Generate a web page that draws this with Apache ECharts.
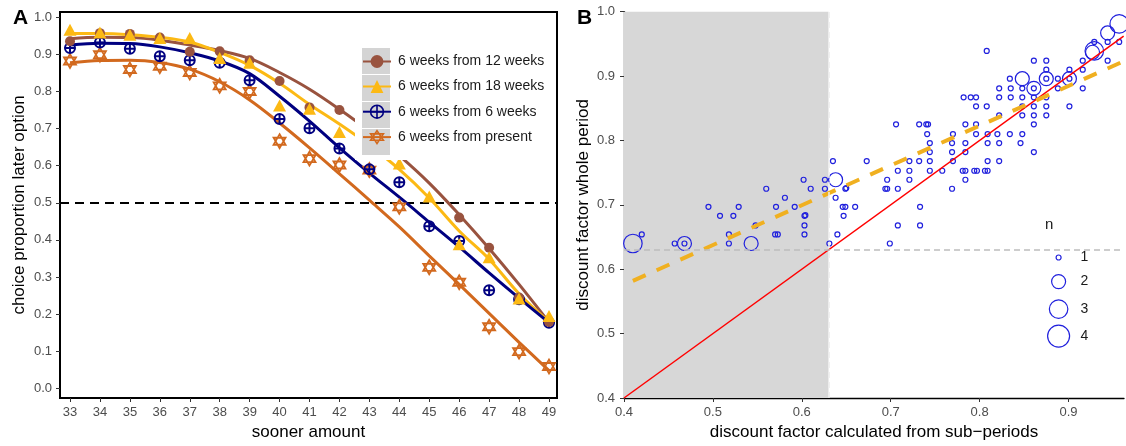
<!DOCTYPE html>
<html><head><meta charset="utf-8">
<script src="https://cdn.jsdelivr.net/npm/echarts/dist/echarts.min.js"></script>
<style>html,body{margin:0;padding:0;background:#fff}#c{width:1126px;height:446px}</style>
</head><body><div id="c"></div>
<script>
// ---------- Panel A data ----------
const sooner = [33,34,35,36,37,38,39,40,41,42,43,44,45,46,47,48,49];
const aYTicks = [0,0.1,0.2,0.3,0.4,0.5,0.6,0.7,0.8,0.9,1.0];
const seriesNames = ['6 weeks from 12 weeks','6 weeks from 18 weeks','6 weeks from 6 weeks','6 weeks from present'];
// observed proportions
const pts12w = [0.935,0.957,0.955,0.945,0.907,0.908,0.884,0.828,0.757,0.750,0.700,0.670,0.640,0.460,0.379,0.245,0.179];
const pts18w = [0.966,0.959,0.953,0.944,0.944,0.890,0.877,0.762,0.753,0.691,0.660,0.606,0.517,0.388,0.353,0.242,0.195];
const pts6w  = [0.917,0.932,0.915,0.895,0.884,0.877,0.830,0.726,0.701,0.646,0.590,0.555,0.437,0.397,0.264,0.240,0.177];
const ptsNow = [0.882,0.899,0.859,0.868,0.851,0.815,0.800,0.666,0.619,0.602,0.588,0.489,0.326,0.286,0.166,0.099,0.059];
// fitted curves (at each amount)
const fit12w = [0.942,0.946,0.945,0.938,0.925,0.910,0.889,0.851,0.806,0.752,0.693,0.627,0.553,0.468,0.377,0.280,0.178];
const fit18w = [0.956,0.956,0.953,0.946,0.933,0.905,0.870,0.822,0.765,0.712,0.655,0.590,0.513,0.424,0.348,0.255,0.179];
const fit6w  = [0.925,0.930,0.929,0.920,0.904,0.882,0.848,0.787,0.720,0.648,0.580,0.515,0.448,0.381,0.311,0.243,0.177];
const fitNow = [0.877,0.883,0.884,0.878,0.860,0.826,0.777,0.715,0.648,0.578,0.507,0.435,0.357,0.280,0.202,0.124,0.048];
const halfLine = 0.5;

// ---------- Panel B data ----------
const bXTicks = [0.4,0.5,0.6,0.7,0.8,0.9];
const bYTicks = [0.4,0.5,0.6,0.7,0.8,0.9,1.0];
const threshold = 0.63;
const identityEnds = [0.4, 0.962];
const fitX = [0.410, 0.962];
const fitY = [0.582, 0.923];
const sizeLevels = [1,2,3,4];
// [sub-period factor, whole-period factor, n]
const bPoints = [
[0.410,0.640,3],[0.420,0.654,1],[0.457,0.640,1],[0.468,0.640,2],[0.468,0.640,1],
[0.495,0.697,1],[0.508,0.683,1],[0.523,0.683,1],[0.529,0.697,1],[0.518,0.654,1],[0.518,0.640,1],
[0.543,0.640,2],[0.548,0.668,1],[0.560,0.725,1],[0.571,0.697,1],[0.570,0.654,1],[0.573,0.654,1],
[0.581,0.711,1],[0.592,0.697,1],[0.602,0.739,1],[0.603,0.683,1],[0.604,0.684,1],[0.603,0.668,1],[0.603,0.654,1],
[0.610,0.725,1],[0.626,0.739,1],[0.626,0.725,1],[0.631,0.640,1],[0.635,0.768,1],[0.638,0.739,2],[0.638,0.711,1],
[0.640,0.654,1],[0.646,0.697,1],[0.649,0.697,1],[0.647,0.683,1],[0.649,0.725,1],[0.650,0.726,1],
[0.660,0.697,1],[0.673,0.768,1],[0.696,0.739,1],[0.694,0.725,1],[0.696,0.725,1],[0.699,0.640,1],
[0.706,0.825,1],[0.708,0.753,1],[0.708,0.725,1],[0.708,0.668,1],
[0.721,0.768,1],[0.721,0.753,1],[0.721,0.739,1],[0.732,0.825,1],[0.732,0.768,1],[0.733,0.697,1],[0.733,0.668,1],
[0.740,0.825,1],[0.742,0.825,1],[0.741,0.810,1],[0.744,0.796,1],[0.744,0.782,1],[0.744,0.768,1],[0.744,0.753,1],
[0.758,0.753,1],[0.769,0.796,1],[0.769,0.782,1],[0.770,0.810,1],[0.770,0.768,1],[0.769,0.725,1],
[0.781,0.753,1],[0.784,0.753,1],[0.782,0.867,1],[0.784,0.825,1],[0.784,0.796,1],[0.784,0.782,1],[0.784,0.739,1],
[0.790,0.867,1],[0.796,0.867,1],[0.796,0.853,1],[0.796,0.825,1],[0.796,0.810,1],[0.794,0.753,1],[0.797,0.753,1],
[0.808,0.939,1],[0.808,0.853,1],[0.809,0.810,1],[0.809,0.796,1],[0.809,0.768,1],[0.806,0.753,1],[0.809,0.753,1],
[0.822,0.881,1],[0.822,0.867,1],[0.822,0.839,1],[0.820,0.810,1],[0.822,0.796,1],[0.822,0.768,1],
[0.834,0.896,1],[0.835,0.881,1],[0.835,0.867,1],[0.834,0.810,1],[0.846,0.796,1],
[0.848,0.896,2],[0.848,0.881,1],[0.848,0.867,1],[0.848,0.853,1],[0.848,0.839,1],[0.848,0.810,1],
[0.861,0.924,1],[0.861,0.881,2],[0.861,0.881,1],[0.861,0.867,1],[0.861,0.853,1],[0.861,0.839,1],[0.861,0.825,1],[0.861,0.782,1],
[0.875,0.924,1],[0.875,0.910,1],[0.875,0.896,2],[0.875,0.896,1],[0.875,0.867,1],[0.875,0.853,1],[0.875,0.839,1],
[0.888,0.896,1],[0.888,0.881,1],[0.901,0.910,1],[0.901,0.896,2],[0.901,0.896,1],[0.901,0.853,1],
[0.916,0.924,1],[0.916,0.910,1],[0.916,0.881,1],
[0.929,0.953,1],[0.929,0.939,3],[0.927,0.937,2],[0.944,0.953,1],[0.944,0.924,1],[0.944,0.967,2],[0.957,0.981,3],[0.957,0.953,1]
];

// ---------- styles ----------
const FONT = '"Liberation Sans", Arial, Helvetica, sans-serif';
const brown = '#99533f', gold = '#fcb914', navy = '#000080', orange = '#d2691e';
const ptBlue = '#2020dd';
const sizeOf = {1:5, 2:14, 3:18.5, 4:22};
const circlePlus = 'path://M0,10A10,10,0,1,1,20,10A10,10,0,1,1,0,10ZM10,0L10,20M0,10L20,10';
const davidStar = 'path://M10,0L18.66,15L1.34,15ZM10,20L1.34,5L18.66,5Z';

const groups = [
  {name: seriesNames[0], pts: pts12w, fit: fit12w, color: brown, symbol: 'circle', size: 10, hollow: false},
  {name: seriesNames[1], pts: pts18w, fit: fit18w, color: gold, symbol: 'triangle', size: [13,12], hollow: false},
  {name: seriesNames[2], pts: pts6w,  fit: fit6w,  color: navy, symbol: circlePlus, size: 10, hollow: true},
  {name: seriesNames[3], pts: ptsNow, fit: fitNow, color: orange, symbol: davidStar, size: [12,14], hollow: true}
];

const series = [];
groups.forEach((g, gi) => {
  const s = {
    type: 'line', name: g.name, xAxisIndex: 0, yAxisIndex: 0,
    data: sooner.map((x, i) => [x, g.fit[i]]),
    smooth: 0.35, showSymbol: false, symbol: g.symbol, silent: true,
    lineStyle: {color: g.color, width: 3}, itemStyle: {color: g.color}, z: 2
  };
  if (gi === 0) {
    s.markLine = {silent: true, symbol: 'none', label: {show: false}, z: 1,
      lineStyle: {color: '#000', width: 2, type: [9, 6]}, data: [{yAxis: halfLine}]};
  }
  series.push(s);
});
const pointOrder = [3, 2, 0, 1];
pointOrder.forEach(gi => {
  const g = groups[gi];
  series.push({
    type: 'scatter', name: g.name, xAxisIndex: 0, yAxisIndex: 0,
    data: sooner.map((x, i) => [x, g.pts[i]]),
    symbol: g.symbol, symbolSize: g.size, silent: true, z: 2.5,
    itemStyle: g.hollow ? {color: 'rgba(0,0,0,0)', borderColor: g.color, borderWidth: gi === 2 ? 2 : 1.8, opacity: 1}
                        : {color: g.color, opacity: 1}
  });
});

// Panel B background pieces
series.push({
  type: 'line', name: 'shade', xAxisIndex: 1, yAxisIndex: 1, data: [[threshold, threshold]],
  symbol: 'none', silent: true, z: 1, lineStyle: {width: 0},
  markArea: {silent: true, itemStyle: {color: '#d7d7d7'}, data: [[{xAxis: bXTicks[0]}, {xAxis: threshold}]]},
  markLine: {silent: true, symbol: 'none', label: {show: false},
    data: [
      {yAxis: threshold, lineStyle: {color: '#bdbdbd', width: 1.5, type: [6, 4]}},
      {xAxis: threshold, lineStyle: {color: '#ededed', width: 1.5, type: [6, 4]}}
    ]}
});
sizeLevels.forEach(n => {
  series.push({
    type: 'scatter', name: String(n), xAxisIndex: 1, yAxisIndex: 1,
    data: bPoints.filter(p => p[2] === n).map(p => [p[0], p[1]]),
    symbol: 'circle', symbolSize: sizeOf[n], silent: true, z: 2, clip: false,
    itemStyle: {color: 'rgba(0,0,0,0)', borderColor: ptBlue, borderWidth: 1.2, opacity: 1}
  });
});
series.push({
  type: 'line', name: 'identity', xAxisIndex: 1, yAxisIndex: 1,
  data: identityEnds.map(v => [v, v]), symbol: 'none', silent: true, z: 2.5,
  lineStyle: {color: '#ff0000', width: 1.5}
});
series.push({
  type: 'line', name: 'fit', xAxisIndex: 1, yAxisIndex: 1,
  data: fitX.map((x, i) => [x, fitY[i]]), symbol: 'none', silent: true, z: 2.5,
  lineStyle: {color: '#f0b020', width: 4, type: [14, 12]}
});

const tickLabel = {color: '#4d4d4d', fontSize: 13, fontFamily: FONT};
const nameStyle = {color: '#000', fontSize: 17, fontFamily: FONT};

const legends = [{
  left: 362, top: 54.5, orient: 'vertical', itemWidth: 28, itemHeight: 16, itemGap: 11,
  padding: 0, selectedMode: false, z: 4,
  textStyle: {fontSize: 14, color: '#1a1a1a', fontFamily: FONT, padding: [0,0,0,2]},
  data: groups.map(g => g.hollow
    ? {name: g.name, itemStyle: {color: 'rgba(0,0,0,0)', borderColor: g.color, borderWidth: 1.6}}
    : {name: g.name})
}];
const legendCenters = [253, 281, 308.5, 335.5];
const legendIconX = 1058, legendTextX = 1080;
sizeLevels.forEach((n, i) => {
  const s = sizeOf[n];
  legends.push({
    left: legendIconX - s / 2, top: legendCenters[i] - s / 2, itemWidth: s, itemHeight: s,
    padding: 0, selectedMode: false, z: 4,
    itemStyle: {color: 'rgba(0,0,0,0)', borderColor: ptBlue, borderWidth: 1.2},
    textStyle: {fontSize: 14, color: '#1a1a1a', fontFamily: FONT,
      padding: [0, 0, 0, legendTextX - (legendIconX + s / 2 + 5)]},
    data: [{name: String(n), icon: 'circle'}]
  });
});

const graphicEls = [
  {type: 'rect', shape: {x: 355, y: 42, width: 197, height: 118}, style: {fill: '#fff'}, z: 3, silent: true},
  {type: 'rect', shape: {x: 1038, y: 214, width: 64, height: 138}, style: {fill: '#fff'}, z: 3, silent: true}
];
for (let i = 0; i < 4; i++) {
  graphicEls.push({type: 'rect', shape: {x: 362, y: 48 + 27 * i, width: 28, height: 26},
    style: {fill: '#d4d4d4'}, z: 3, silent: true});
}

const option = {
  animation: false,
  backgroundColor: '#fff',
  textStyle: {fontFamily: FONT},
  title: [
    {text: 'A', left: 13, top: 8, padding: 0, textStyle: {fontSize: 21, fontWeight: 'bold', color: '#000', fontFamily: FONT}},
    {text: 'B', left: 577, top: 8, padding: 0, textStyle: {fontSize: 21, fontWeight: 'bold', color: '#000', fontFamily: FONT}},
    {text: 'n', left: 1045, top: 217, padding: 0, textStyle: {fontSize: 15, fontWeight: 'normal', color: '#1a1a1a', fontFamily: FONT}}
  ],
  legend: legends,
  graphic: {elements: graphicEls},
  grid: [
    {left: 60, top: 12, width: 497, height: 390, show: true, borderColor: '#000', borderWidth: 2, backgroundColor: 'rgba(0,0,0,0)'},
    {left: 624, top: 11.7, width: 500, height: 390.8}
  ],
  xAxis: [
    {type: 'value', gridIndex: 0, min: 32.666, max: 49.267,
     axisLine: {show: false, onZero: false},
     axisTick: {show: true, length: 4, customValues: sooner, lineStyle: {color: '#333', width: 1}},
     axisLabel: {...tickLabel, margin: 8, customValues: sooner},
     splitLine: {show: false},
     name: 'sooner amount', nameLocation: 'middle', nameGap: 26, nameTextStyle: nameStyle},
    {type: 'value', gridIndex: 1, min: 0.4, max: 0.9624,
     axisLine: {show: true, onZero: false, lineStyle: {color: '#000', width: 1.3}},
     axisTick: {show: true, length: 4, customValues: bXTicks, lineStyle: {color: '#333', width: 1}},
     axisLabel: {...tickLabel, margin: 8, customValues: bXTicks, formatter: v => v.toFixed(1)},
     splitLine: {show: false},
     name: 'discount factor calculated from sub\u2212periods', nameLocation: 'middle', nameGap: 26, nameTextStyle: nameStyle}
  ],
  yAxis: [
    {type: 'value', gridIndex: 0, min: -0.026, max: 1.014,
     axisLine: {show: false, onZero: false},
     axisTick: {show: true, length: 4, customValues: aYTicks, lineStyle: {color: '#333', width: 1}},
     axisLabel: {...tickLabel, margin: 8, customValues: aYTicks, formatter: v => v.toFixed(1)},
     splitLine: {show: false},
     name: 'choice proportion later option', nameLocation: 'middle', nameGap: 32, nameTextStyle: nameStyle},
    {type: 'value', gridIndex: 1, min: 0.4, max: 1.0,
     axisLine: {show: true, onZero: false, lineStyle: {color: '#000', width: 1.3}},
     axisTick: {show: true, length: 4, customValues: bYTicks, lineStyle: {color: '#333', width: 1}},
     axisLabel: {...tickLabel, margin: 9, customValues: bYTicks, formatter: v => v.toFixed(1)},
     splitLine: {show: false},
     name: 'discount factor whole period', nameLocation: 'middle', nameGap: 32, nameTextStyle: nameStyle}
  ],
  series: series
};
const chart = echarts.init(document.getElementById('c'), null, {renderer: 'canvas'});
chart.setOption(option);
</script>
</body></html>
